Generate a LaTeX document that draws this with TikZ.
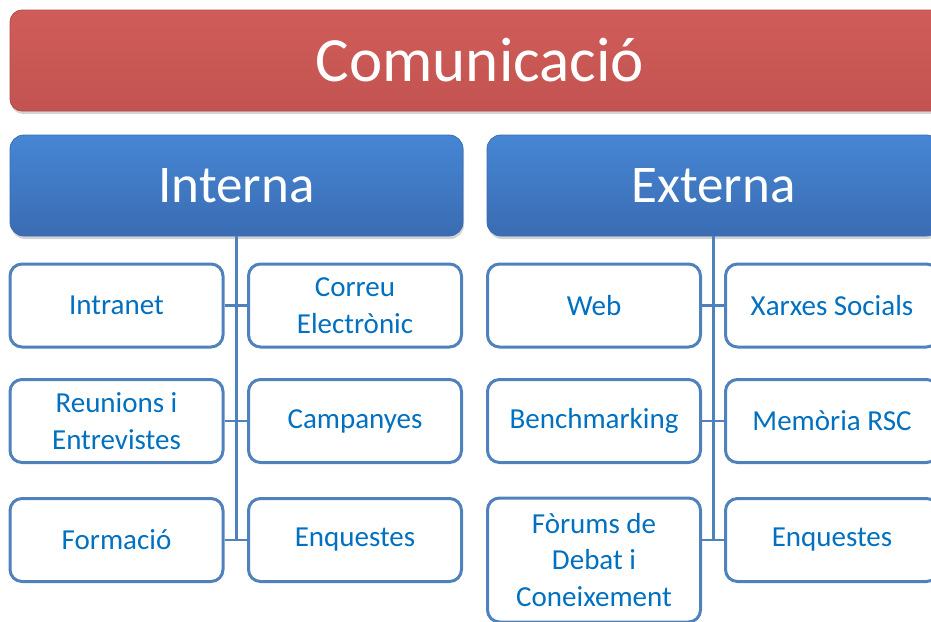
\documentclass[tikz,border=0pt]{standalone}
\usepackage{fontspec}
\setmainfont{Carlito}
\usetikzlibrary{shadows}
\definecolor{titlered}{RGB}{205,88,85}
\definecolor{titleredtop}{RGB}{208,92,89}
\definecolor{headblue}{RGB}{70,134,212}
\definecolor{headbluebot}{RGB}{58,108,178}
\definecolor{edgeblue}{RGB}{79,129,189}
\definecolor{textblue}{RGB}{0,112,192}

\begin{document}
\begin{tikzpicture}[x=1pt, y=-1pt,
    title/.style={rectangle, rounded corners=12pt, draw=titlered!85!black, line width=0.8pt,
      top color=titleredtop, bottom color=titlered!95!black, text=white,
      minimum width=940pt, minimum height=101pt, inner sep=0pt,
      drop shadow={shadow xshift=1pt, shadow yshift=-3pt, opacity=0.35},
      font=\fontsize{63}{70}\selectfont},
    head/.style={rectangle, rounded corners=14pt, draw=headbluebot, line width=0.8pt,
      top color=headblue, bottom color=headbluebot, text=white,
      minimum width=453pt, minimum height=101pt, inner sep=0pt,
      drop shadow={shadow xshift=1pt, shadow yshift=-3pt, opacity=0.35},
      font=\fontsize{53}{60}\selectfont},
    item/.style={rectangle, rounded corners=12pt, draw=edgeblue, line width=3pt, fill=white,
      text=textblue, align=center, minimum width=213pt, minimum height=83pt, inner sep=0pt,
      font=\fontsize{29}{36.5}\selectfont},
    link/.style={draw=edgeblue, line width=2.2pt}]
    \useasboundingbox (0,0) rectangle (931,621);
    \node[title] (com) at (480,60.5) {Comunicació};
    \node[head] (int) at (236.5,185.5) {Interna};
    \node[head] (ext) at (713.5,185.5) {Externa};

    \node[item] (intranet) at (116.5,305.5) {Intranet};
    \node[item] (correu) at (355,305.5) {Correu\\Electrònic};
    \node[item] (reunions) at (116.5,421) {Reunions i\\Entrevistes};
    \node[item] (campanyes) at (355,421) {Campanyes};
    \node[item] (formacio) at (116.5,540) {Formació};
    \node[item] (enqint) at (355,540) {Enquestes};

    \node[item] (web) at (594,305.5) {Web};
    \node[item] (xarxes) at (832,305.5) {Xarxes Socials};
    \node[item] (bench) at (594,421) {Benchmarking};
    \node[item] (memoria) at (832,421) {Memòria RSC};
    \node[item, minimum height=124pt] (forums) at (594,560) {Fòrums de\\Debat i\\Coneixement};
    \node[item] (enqext) at (832,540) {Enquestes};

    \draw[link] (int.south) -- (int.south |- formacio.east);
    \draw[link] (intranet.east) -- (correu.west);
    \draw[link] (reunions.east) -- (campanyes.west);
    \draw[link] (formacio.east) -- (enqint.west);
    \draw[link] (ext.south) -- (ext.south |- enqext.west);
    \draw[link] (web.east) -- (xarxes.west);
    \draw[link] (bench.east) -- (memoria.west);
    \draw[link] (forums.east |- enqext.west) -- (enqext.west);
  \end{tikzpicture}
\end{document}
